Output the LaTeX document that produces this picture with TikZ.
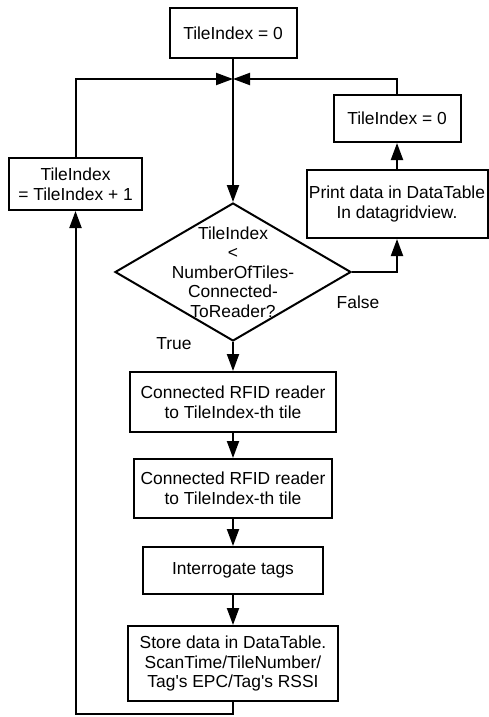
\documentclass[tikz,border=0pt]{standalone}
\usepackage{fontspec}
\setmainfont{Liberation Sans}
\usetikzlibrary{arrows.meta,shapes.geometric}
\begin{document}
\begin{tikzpicture}[x=1pt,y=-1pt,
  font=\fontsize{17.4}{19.6}\selectfont,
  box/.style={draw,line width=2pt,inner sep=0pt,align=center},
  conn/.style={line width=2pt},
  arr/.style={conn,-{Triangle[length=17pt,width=12pt]}},
  lbl/.style={inner sep=0pt}]
\useasboundingbox (0,0) rectangle (488,717);
% nodes
\node[box,minimum width=127pt,minimum height=50pt] (top) at (233,33) {TileIndex = 0};
\coordinate (j) at (233,79);
\node[box,minimum width=133pt,minimum height=52pt] (lb) at (75.5,184) {TileIndex\\= TileIndex + 1};
\node[box,minimum width=127pt,minimum height=47pt] (tz) at (397,118.5) {TileIndex = 0};
\node[box,minimum width=181pt,minimum height=68pt] (pr) at (397,204) {Print data in DataTable\\In datagridview.};
\node[draw,line width=2pt,shape=diamond,inner sep=0pt,minimum width=236pt,minimum height=138pt] (dec) at (233,272) {};
\node[lbl,align=center] (dect) at (233,272) {TileIndex\\<\\NumberOfTiles-\\Connected-\\ToReader?};
\node[box,minimum width=206pt,minimum height=60pt] (b1) at (233,402) {Connected RFID reader\\to TileIndex-th tile};
\node[box,minimum width=198pt,minimum height=59pt] (b2) at (233,488.5) {Connected RFID reader\\to TileIndex-th tile};
\node[box,minimum width=180pt,minimum height=47pt] (b3) at (233,570.5) {Interrogate tags};
\node[box,minimum width=210pt,minimum height=75pt] (b4) at (233,663.5) {Store data in DataTable.\\ScanTime/TileNumber/\\Tag\textquotesingle s EPC/Tag\textquotesingle s RSSI};
\node[lbl] (fl) at (358,302) {False};
\node[lbl] (tl) at (174,344) {True};
\coordinate (bl) at (75.5,714);
% connectors
\draw[arr] (top.south) -- (dec.north);
\draw[arr] (lb.north) |- (j);
\draw[arr] (tz.north) |- (j);
\draw[arr] (dec.south) -- (b1.north);
\draw[arr] (b1.south) -- (b2.north);
\draw[arr] (b2.south) -- (b3.north);
\draw[arr] (b3.south) -- (b4.north);
\draw[arr] (dec.east) -| (pr.south);
\draw[arr] (pr.north) -- (tz.south);
\draw[arr] (b4.south) |- (bl) -- (lb.south);
\end{tikzpicture}
\end{document}
